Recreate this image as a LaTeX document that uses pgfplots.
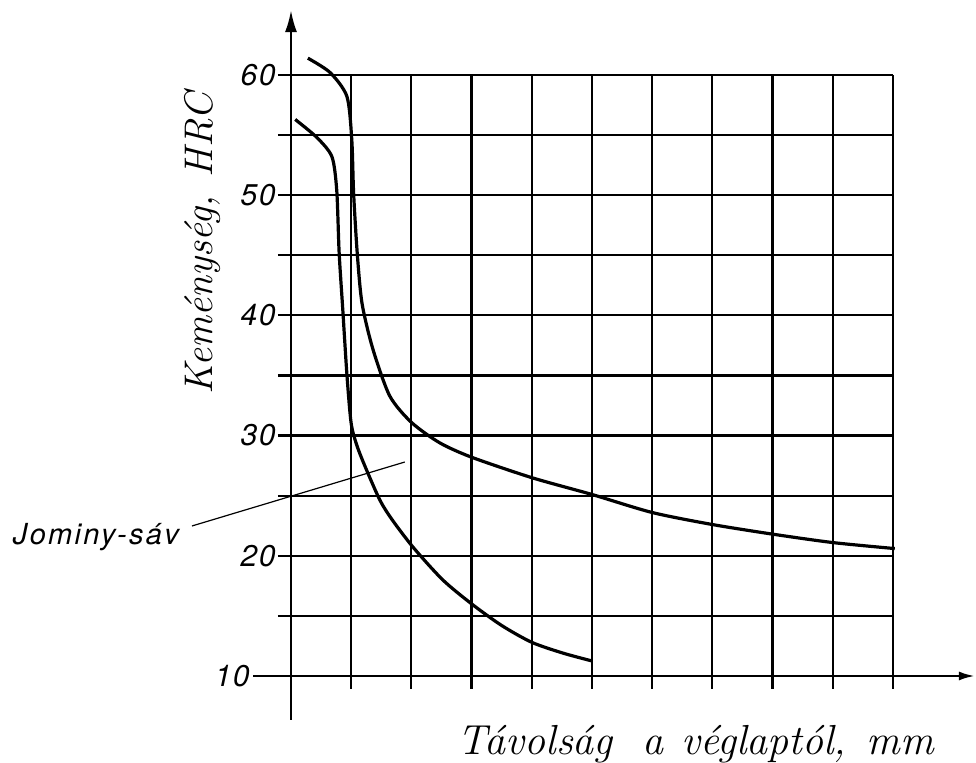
\documentclass[border=0pt]{standalone}
\usepackage{fontspec}
\usepackage{pgfplots}
\pgfplotsset{compat=1.18}
\usetikzlibrary{arrows.meta}
\newfontfamily\heros{TeX Gyre Heros}
\newcommand\tickfont{\heros\itshape\fontsize{15}{15}\selectfont\addfontfeatures{LetterSpace=5}}
\newcommand\ylabfont{\itshape\fontsize{20}{22}\selectfont\addfontfeatures{LetterSpace=10}}
\newcommand\xlabfont{\itshape\fontsize{21}{23}\selectfont\addfontfeatures{LetterSpace=8}}
\begin{document}
\begin{tikzpicture}
\begin{axis}[
    at={(0,0)}, anchor=south west,
    scale only axis, width=301pt, height=300.5pt,
    xmin=0, xmax=10, ymin=10, ymax=60,
    clip=false,
    axis line style={draw=none},
    xtick={0,...,10}, xticklabels={},
    ytick={10,15,...,60}, yticklabels={,,20,,30,,40,,50,,60},
    tick pos=left,
    tick align=outside, major tick length=6.5pt,
    tick style={black, line width=1.1pt},
    grid=major, grid style={black, line width=1.1pt},
    yticklabel style={font=\tickfont, inner sep=1pt},
]
% upper edge of the band
\addplot[black, line width=1.6pt, smooth, tension=0.45] coordinates {
    (0.28,61.4) (0.65,60.2) (0.93,58.2) (1.01,54.6) (1.04,50.2) (1.10,45.2)
    (1.18,41.0) (1.36,37.2) (1.64,33.3) (2.0,31.1) (2.47,29.4) (3.0,28.2)
    (4.0,26.5) (5.0,25.1) (6.0,23.6) (7.0,22.6) (8.0,21.8) (9.0,21.1) (10.03,20.6)
};
% lower edge of the band
\addplot[black, line width=1.6pt, smooth, tension=0.45] coordinates {
    (0.07,56.3) (0.43,54.8) (0.68,53.2) (0.76,50.4) (0.80,45.2) (0.86,40.5)
    (0.93,35.0) (1.0,31.0) (1.1,29.1) (1.25,27.2) (1.48,24.6) (1.68,23.0)
    (2.03,20.7) (2.52,18.0) (3.0,16.0) (3.5,14.2) (4.0,12.8) (4.52,11.9) (5.0,11.25)
};
% axes with arrows
\draw[black, line width=1.2pt, -{Latex[length=11pt,width=6pt]}] (axis cs:0,6.34) -- (axis cs:0,65.4);
\draw[black, line width=1.2pt, -{Latex[length=8pt,width=4.5pt]}] (axis cs:-0.63,10) -- (axis cs:11.36,10);
\node[anchor=east, font=\tickfont, inner sep=0pt, xshift=-1.5pt] at (axis cs:-0.63,10) {10};
% labels
\node[rotate=90, font=\ylabfont] at (axis cs:-1.47,46.0) {Keménység,\hspace{9pt}HRC};
\node[anchor=base, font=\xlabfont] at (axis cs:6.72,3.43) {Távolság\hspace{15pt}a\hspace{9pt}véglaptól,\hspace{10pt}mm};
\draw[black, line width=0.6pt] (axis cs:-1.645,22.48) -- (axis cs:1.89,27.8);
\node[anchor=base, font={\heros\itshape\fontsize{14.5}{15}\selectfont\addfontfeatures{LetterSpace=8}}] at (axis cs:-3.24,20.9) {Jominy-sáv};
\end{axis}
\pgfresetboundingbox
\path (-145.5pt,-43.5pt) rectangle (342.5pt,338pt);
\end{tikzpicture}
\end{document}
